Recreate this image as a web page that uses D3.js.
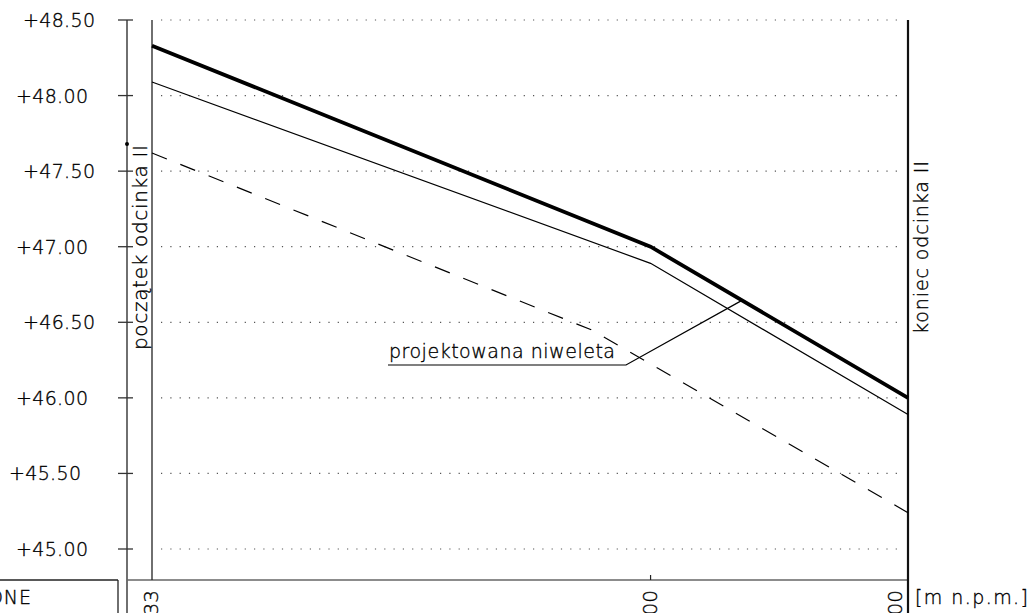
<!DOCTYPE html>
<html><head><meta charset="utf-8">
<script src="https://cdn.jsdelivr.net/npm/d3@7/dist/d3.min.js"></script>
<style>
html,body{margin:0;padding:0;background:#fff;overflow:hidden}
svg text{font-family:"DejaVu Sans ExtraLight","DejaVu Sans",sans-serif;font-weight:200;fill:#000;stroke:#000;stroke-width:0.35}
</style></head><body>
<svg id="c" width="1034" height="613"></svg>
<script>
// ---- data ----
const yTicks = [45.0, 45.5, 46.0, 46.5, 47.0, 47.5, 48.0, 48.5];
const yTickLabels = ["+45.00","+45.50","+46.00","+46.50","+47.00","+47.50","+48.00","+48.50"];
const stations = [306.33, 500.00, 600.00];
const stationLabels = ["0+306.33","0+500.00","0+600.00"];
const gradeLine = [48.33, 47.00, 46.00];          // projektowana niweleta (thick)
const thinLine = [48.09, 46.89, 45.89];
const terrainStations = [306.33, 477.0, 600.00];
const terrainLine = [47.62, 46.45, 45.24];        // dashed
const markerValue = 47.68;
const startLabel = "początek odcinka II";
const endLabel = "koniec odcinka II";
const leaderLabel = "projektowana niweleta";
const unitLabel = "[m n.p.m.]";
const boxLabel = "ONE";
const leaderStation = 535.5;

// layout (not data)
const labelShift = [-7,-14,-7,0,-7,0,-7,0];
const stationLabelDx = [6, 6, -6];

const svg = d3.select("#c");
const x = d3.scaleLinear().domain([306.33, 600]).range([152, 908]);
const y = d3.scaleLinear().domain([45, 48.5]).range([549, 20]);
const axisX = 127;

// dotted grid
svg.append("g").selectAll("line").data(yTicks).join("line")
  .attr("x1", 161).attr("x2", 900)
  .attr("y1", d => y(d)).attr("y2", d => y(d))
  .attr("stroke", "#555").attr("stroke-width", 1.2)
  .attr("stroke-dasharray", "1.2,8.1");

// y axis line
svg.append("line").attr("x1", axisX).attr("x2", axisX).attr("y1", y(48.5)).attr("y2", 613)
  .attr("stroke", "#222").attr("stroke-width", 1.3);
// ticks
svg.append("g").selectAll("line").data(yTicks).join("line")
  .attr("x1", axisX - 9).attr("x2", axisX + 6)
  .attr("y1", d => y(d)).attr("y2", d => y(d))
  .attr("stroke", "#333").attr("stroke-width", 1.3);
// tick labels
svg.append("g").selectAll("text").data(yTicks).join("text")
  .attr("x", (d, i) => 95 + labelShift[i] - 72)
  .attr("y", d => y(d) + 7)
  .attr("font-size", 19)
  .attr("textLength", 72).attr("lengthAdjust", "spacing")
  .text((d, i) => yTickLabels[i]);
// marker dot
svg.append("circle").attr("cx", axisX).attr("cy", y(markerValue)).attr("r", 2).attr("fill", "#000");

// bottom band
const bottomY = 580;
svg.append("line").attr("x1", 0).attr("x2", 118).attr("y1", bottomY).attr("y2", bottomY).attr("stroke", "#222").attr("stroke-width", 1.3);
svg.append("line").attr("x1", 118).attr("x2", 118).attr("y1", bottomY).attr("y2", 613).attr("stroke", "#222").attr("stroke-width", 1.3);
svg.append("line").attr("x1", axisX).attr("x2", x(600)).attr("y1", bottomY).attr("y2", bottomY).attr("stroke", "#666").attr("stroke-width", 1.6);
svg.append("text").attr("x", -12).attr("y", 604).attr("font-size", 19).attr("textLength", 43).attr("lengthAdjust", "spacing").text(boxLabel);
svg.append("text").attr("x", 915).attr("y", 604).attr("font-size", 19).attr("textLength", 113).attr("lengthAdjust", "spacing").text(unitLabel);

// station verticals
svg.append("line").attr("x1", x(stations[0])).attr("x2", x(stations[0])).attr("y1", y(48.5)).attr("y2", bottomY)
  .attr("stroke", "#222").attr("stroke-width", 1.3);
svg.append("line").attr("x1", x(stations[2])).attr("x2", x(stations[2])).attr("y1", y(48.5)).attr("y2", 613)
  .attr("stroke", "#111").attr("stroke-width", 2.2);
svg.append("line").attr("x1", x(stations[1])).attr("x2", x(stations[1])).attr("y1", bottomY - 5).attr("y2", bottomY)
  .attr("stroke", "#222").attr("stroke-width", 1.2);

// station labels (rotated)
svg.append("g").selectAll("text").data(stations).join("text")
  .attr("transform", (d, i) => `translate(${x(d) + stationLabelDx[i]},${bottomY + 10}) rotate(-90)`)
  .attr("text-anchor", "end")
  .attr("font-size", 20)
  .text((d, i) => stationLabels[i]);

// vertical section labels
svg.append("text").attr("transform", `translate(147,350) rotate(-90)`)
  .attr("font-size", 20).attr("textLength", 205).attr("lengthAdjust", "spacing").text(startLabel);
svg.append("text").attr("transform", `translate(928,334) rotate(-90)`)
  .attr("font-size", 19).attr("textLength", 173).attr("lengthAdjust", "spacing").text(endLabel);

// lines
const line = d3.line().x(d => x(d[0])).y(d => y(d[1]));
svg.append("path").datum(terrainStations.map((s, i) => [s, terrainLine[i]]))
  .attr("d", line).attr("fill", "none").attr("stroke", "#000").attr("stroke-width", 1.2)
  .attr("stroke-dasharray", "16,14.5");
svg.append("path").datum(stations.map((s, i) => [s, thinLine[i]]))
  .attr("d", line).attr("fill", "none").attr("stroke", "#000").attr("stroke-width", 1.2);
svg.append("path").datum(stations.map((s, i) => [s, gradeLine[i]]))
  .attr("d", line).attr("fill", "none").attr("stroke", "#000").attr("stroke-width", 3.8);

// leader
const gradeAt = d3.scaleLinear().domain(stations).range(gradeLine);
const lx = x(leaderStation), ly = y(gradeAt(leaderStation));
svg.append("polyline")
  .attr("points", `388,365 626,365 ${lx},${ly}`)
  .attr("fill", "none").attr("stroke", "#000").attr("stroke-width", 1.2);
svg.append("text").attr("x", 389).attr("y", 358).attr("font-size", 19)
  .attr("textLength", 226).attr("lengthAdjust", "spacing").text(leaderLabel);
</script>
</body></html>
